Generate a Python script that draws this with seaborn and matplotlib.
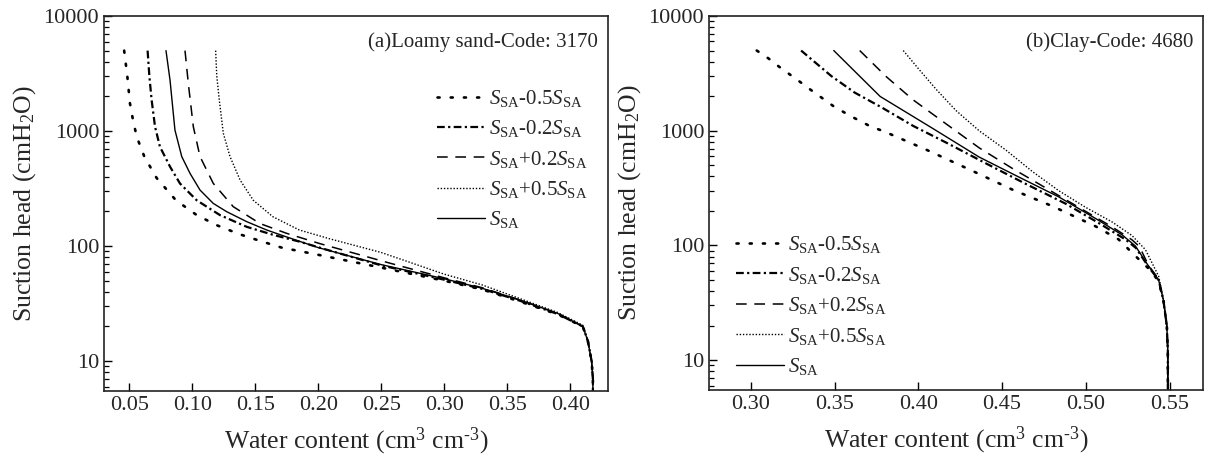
import matplotlib
matplotlib.use("Agg")
import matplotlib.pyplot as plt
from matplotlib.ticker import FixedLocator, FuncFormatter, LogLocator, NullFormatter
import seaborn as sns

sns.set_style("ticks")
plt.rcParams["font.family"] = ["Liberation Serif", "DejaVu Serif"]
plt.rcParams["mathtext.fontset"] = "custom"
plt.rcParams["mathtext.rm"] = "Liberation Serif"
plt.rcParams["mathtext.it"] = "Liberation Serif:italic"
plt.rcParams["mathtext.bf"] = "Liberation Serif:bold"

labels = [r"$S_{\rm SA}$-0.5$S_{\rm SA}$", r"$S_{\rm SA}$-0.2$S_{\rm SA}$",
          r"$S_{\rm SA}$+0.2$S_{\rm SA}$", r"$S_{\rm SA}$+0.5$S_{\rm SA}$",
          r"$S_{\rm SA}$"]

# (a) Loamy sand, code 3170
sand_m05_theta = [0.046, 0.0485, 0.0506, 0.053, 0.056, 0.062, 0.0718, 0.0871, 0.1036, 0.1194,
                  0.1374, 0.1538, 0.171, 0.20, 0.25, 0.30, 0.33, 0.36, 0.39, 0.41, 0.414, 0.417, 0.418, 0.418]
sand_m05_h = [5000, 3000, 1740, 1250, 890, 600, 390, 250, 186, 152,
              127, 111, 97, 84, 65, 50, 42, 33, 25.5, 20, 15, 10, 7, 4]

sand_m02_theta = [0.0646, 0.066, 0.0678, 0.0705, 0.0744, 0.0824, 0.0903, 0.1036, 0.122, 0.1433,
                  0.1645, 0.1856, 0.2067, 0.25, 0.30, 0.33, 0.36, 0.39, 0.41, 0.414, 0.417, 0.418, 0.418]
sand_m02_h = [5000, 3000, 1860, 1090, 730, 490, 350, 250, 186, 147,
              125, 109, 93, 68, 51, 42.5, 33.5, 25.7, 20, 15, 10, 7, 4]

sand_s_theta = [0.0792, 0.0824, 0.0863, 0.0917, 0.0983, 0.1062, 0.1167, 0.1274, 0.1433, 0.1591,
                0.175, 0.20, 0.25, 0.30, 0.33, 0.36, 0.39, 0.41, 0.414, 0.417, 0.418, 0.418]
sand_s_h = [5000, 2770, 1020, 600, 428, 307, 235, 199, 163, 138,
            120, 97, 69, 52, 43, 34, 26, 20, 15, 10, 7, 4]

sand_p02_theta = [0.0943, 0.0969, 0.1009, 0.1062, 0.1167, 0.1326, 0.1538, 0.175, 0.2014, 0.257,
                  0.30, 0.33, 0.36, 0.39, 0.41, 0.414, 0.417, 0.418, 0.418]
sand_p02_h = [5000, 2600, 1090, 600, 351, 220, 157, 129, 105, 71,
              53, 43.5, 34, 26, 20, 15, 10, 7, 4]

sand_p05_theta = [0.1186, 0.1195, 0.1215, 0.1247, 0.130, 0.138, 0.1485, 0.164, 0.185, 0.21,
                  0.25, 0.30, 0.33, 0.36, 0.39, 0.41, 0.414, 0.417, 0.418, 0.418]
sand_p05_h = [5000, 3000, 1860, 955, 600, 375, 250, 180, 138, 115,
              88, 57, 46, 35, 26.5, 20.5, 15, 10, 7, 4]

# (b) Clay, code 4680
clay_m05_theta = [0.3035, 0.3104, 0.3168, 0.329, 0.3357, 0.3495, 0.3599, 0.3714, 0.3795, 0.4047,
                  0.4307, 0.4561, 0.4801, 0.5058, 0.5196, 0.5296, 0.5375, 0.5435, 0.5464, 0.5484,
                  0.549, 0.549]
clay_m05_h = [5000, 4280, 3620, 2690, 2275, 1630, 1334, 1091, 987, 684,
              458, 307, 220, 147, 113, 81, 63, 49, 33, 20,
              12, 4]

clay_m02_theta = [0.33, 0.348, 0.362, 0.378, 0.397, 0.4165, 0.4403, 0.464, 0.4878, 0.5077,
                  0.5236, 0.530, 0.5375, 0.5435, 0.5464, 0.5484, 0.549, 0.549]
clay_m02_h = [5000, 3000, 2150, 1600, 1100, 790, 520, 345, 232, 157,
              113, 95, 65, 50, 33, 20, 12, 4]

clay_s_theta = [0.3495, 0.3772, 0.4083, 0.4363, 0.46, 0.4839, 0.5058, 0.5216, 0.5296, 0.5375,
                0.5435, 0.5464, 0.5484, 0.549, 0.549]
clay_s_h = [5000, 1990, 1054, 590, 395, 265, 172, 124, 99, 66,
            50, 33, 20, 12, 4]

clay_p02_theta = [0.365, 0.3808, 0.3968, 0.4165, 0.4363, 0.4561, 0.476, 0.4958, 0.5158, 0.5276,
                  0.532, 0.5375, 0.5435, 0.5464, 0.5484, 0.549, 0.549]
clay_p02_h = [5000, 2965, 1862, 1150, 710, 470, 318, 215, 145, 112,
              98, 67, 51, 33, 20, 12, 4]

clay_p05_theta = [0.391, 0.4006, 0.4106, 0.4225, 0.4363, 0.4522, 0.4682, 0.4839, 0.4999, 0.5158,
                  0.5276, 0.5356, 0.5435, 0.5464, 0.5486, 0.549, 0.549]
clay_p05_h = [5000, 3400, 2300, 1500, 1000, 680, 440, 300, 215, 160,
              122, 92, 54, 34, 17.5, 10, 4]

sand_curves = [(sand_m05_theta, sand_m05_h), (sand_m02_theta, sand_m02_h),
               (sand_p02_theta, sand_p02_h), (sand_p05_theta, sand_p05_h),
               (sand_s_theta, sand_s_h)]
clay_curves = [(clay_m05_theta, clay_m05_h), (clay_m02_theta, clay_m02_h),
               (clay_p02_theta, clay_p02_h), (clay_p05_theta, clay_p05_h),
               (clay_s_theta, clay_s_h)]

styles = [
    dict(linestyle=(0, (0.8, 4.2)), linewidth=1.9, dash_capstyle="round"),
    dict(linestyle=(0, (3.5, 1.5, 1, 1.5)), linewidth=1.6),
    dict(linestyle=(0, (7, 5)), linewidth=1.1),
    dict(linestyle=(0, (1, 1.3)), linewidth=1.0),
    dict(linestyle="-", linewidth=1.0),
]

fig = plt.figure(figsize=(12.05, 4.63), dpi=100)
ax1 = fig.add_axes([104 / 1205, 72 / 463, 504 / 1205, 375 / 463])
ax2 = fig.add_axes([709 / 1205, 73 / 463, 494 / 1205, 374 / 463])


def draw(ax, curves, xlim, xticks, title):
    for (th, h), lab, st in zip(curves, labels, styles):
        sns.lineplot(x=th, y=h, ax=ax, sort=False, estimator=None, color="black",
                     label=lab, **st)
    ax.set_yscale("log")
    ax.set_xlim(*xlim)
    ax.set_ylim(5.5, 10000)
    ax.xaxis.set_major_locator(FixedLocator(xticks))
    ax.xaxis.set_major_formatter(FuncFormatter(lambda v, p: f"{v:.2f}"))
    ax.yaxis.set_major_locator(FixedLocator([10, 100, 1000, 10000]))
    ax.yaxis.set_major_formatter(FuncFormatter(lambda v, p: f"{int(round(v))}"))
    ax.yaxis.set_minor_locator(LogLocator(base=10, subs=range(2, 10)))
    ax.yaxis.set_minor_formatter(NullFormatter())
    ax.tick_params(which="both", direction="in", top=False, right=False,
                   labelsize=16, color="black")
    ax.tick_params(which="major", length=6, width=1.0)
    ax.tick_params(which="minor", length=3.5, width=0.9)
    for sp in ax.spines.values():
        sp.set_linewidth(1.2)
        sp.set_color("#222222")
    ax.set_xlabel("Water content (cm$^{3}$ cm$^{\u20103}$)", fontsize=18.5, labelpad=8)
    ax.set_ylabel(r"Suction head (cmH$_2$O)", fontsize=18.5, labelpad=4)
    ax.text(0.98, 0.93, title, transform=ax.transAxes, ha="right", va="center",
            fontsize=15)


draw(ax1, sand_curves, (0.03, 0.43), [0.05, 0.10, 0.15, 0.20, 0.25, 0.30, 0.35, 0.40],
     "(a)Loamy sand-Code: 3170")
draw(ax2, clay_curves, (0.275, 0.57), [0.30, 0.35, 0.40, 0.45, 0.50, 0.55],
     "(b)Clay-Code: 4680")

ax1.legend(loc="upper right", bbox_to_anchor=(0.96, 0.808), frameon=False,
           fontsize=15, handlelength=2.3, handletextpad=0.2, labelspacing=0.45,
           borderpad=0, borderaxespad=0)
ax2.legend(loc="lower left", bbox_to_anchor=(0.055, 0.035), frameon=False,
           fontsize=15, handlelength=2.3, handletextpad=0.2, labelspacing=0.45,
           borderpad=0, borderaxespad=0)

fig.savefig("out.png", dpi=100, facecolor="white")
